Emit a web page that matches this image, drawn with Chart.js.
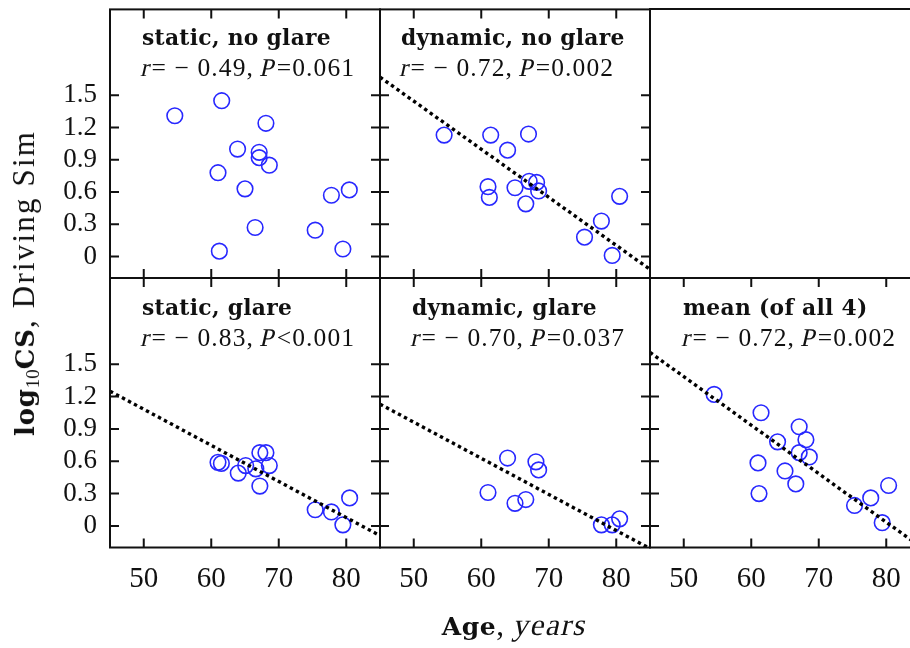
<!DOCTYPE html>
<html><head><meta charset="utf-8">
<script src="https://cdn.jsdelivr.net/npm/chart.js@4/dist/chart.umd.min.js"></script>
<style>
html,body{margin:0;padding:0;background:#fff;overflow:hidden;width:910px;height:648px;}
#wrap{position:relative;width:910px;height:648px;overflow:hidden;}
#wrap canvas{position:absolute;left:0;top:0;}
.txt{position:absolute;font-family:"Liberation Serif",serif;color:#111;white-space:nowrap;line-height:1;}
.bd{font-family:"DejaVu Serif",serif;font-weight:bold;}
.it{display:inline-block;transform:skewX(-13deg);font-style:normal;}
.ptitle{font-size:21.8px;letter-spacing:0.3px;}
.pstat{font-size:25.5px;letter-spacing:1.1px;}
#ytitle{font-size:31px;letter-spacing:2.2px;transform:translate(-50%,-50%) rotate(-90deg);}
#ytitle .bd{font-size:26px;letter-spacing:0.8px;}
#ytitle sub{font-family:"Liberation Serif",serif;font-size:19px;font-weight:normal;vertical-align:-5px;letter-spacing:0;}
#xtitle{font-size:31px;letter-spacing:1.6px;transform:translateX(-50%);}
#xtitle .bd{font-size:25px;letter-spacing:0.6px;}
#empty{position:absolute;border:2px solid #111;}
</style></head>
<body>
<div id="wrap"></div>
<script>
// ---- data ----
const xTickValues = [50, 60, 70, 80];
const xTickLabels = ['50', '60', '70', '80'];
const yTickValues = [0, 0.3, 0.6, 0.9, 1.2, 1.5];
const yTickLabels = ['0', '0.3', '0.6', '0.9', '1.2', '1.5'];

const panelTitles = ['static, no glare', 'dynamic, no glare', 'static, glare', 'dynamic, glare', 'mean (of all 4)'];
const statR = ['\u2212 0.49', '\u2212 0.72', '\u2212 0.83', '\u2212 0.70', '\u2212 0.72'];
const statP = ['=0.061', '=0.002', '<0.001', '=0.037', '=0.002'];

const ageStaticNoGlare = [54.6, 61.55, 68.1, 63.9, 67.1, 67.1, 68.6, 61.0, 65.0, 77.8, 80.45, 66.5, 75.4, 79.5, 61.2];
const csStaticNoGlare  = [1.31, 1.45, 1.24, 1.00, 0.97, 0.92, 0.85, 0.78, 0.63, 0.57, 0.62, 0.27, 0.245, 0.07, 0.05];

const ageDynNoGlare = [54.5, 61.4, 67.0, 63.9, 61.0, 61.2, 65.0, 67.1, 68.2, 68.5, 66.6, 80.5, 77.8, 75.3, 79.4];
const csDynNoGlare  = [1.13, 1.13, 1.14, 0.99, 0.65, 0.55, 0.64, 0.70, 0.69, 0.61, 0.49, 0.56, 0.33, 0.18, 0.01];

const ageStaticGlare = [61.0, 61.5, 64.0, 65.1, 66.6, 67.2, 68.1, 68.6, 67.2, 75.4, 77.8, 80.5, 79.5];
const csStaticGlare  = [0.59, 0.58, 0.49, 0.56, 0.53, 0.68, 0.68, 0.56, 0.37, 0.15, 0.13, 0.26, 0.01];

const ageDynGlare = [63.9, 61.0, 65.0, 66.6, 68.1, 68.5, 77.8, 79.4, 80.5];
const csDynGlare  = [0.63, 0.31, 0.21, 0.245, 0.595, 0.52, 0.01, 0.01, 0.066];

const ageMean = [54.5, 61.45, 63.9, 67.1, 68.1, 67.1, 68.6, 61.0, 65.0, 66.6, 61.15, 75.3, 77.7, 80.35, 79.4];
const csMean  = [1.22, 1.05, 0.78, 0.92, 0.80, 0.68, 0.64, 0.585, 0.51, 0.39, 0.30, 0.19, 0.26, 0.375, 0.03];

const fitAges = [45, 85];
const fitDynNoGlare  = [1.67, -0.12];
const fitStaticGlare = [1.25, -0.09];
const fitDynGlare    = [1.13, -0.21];
const fitMean        = [1.61, -0.19];

// ---- layout ----
const CW = 930, CH = 648;
const colLeft = [110, 380, 650];
const rowTop = [8.5, 278];
const PW = 270, PH = 269.5;
const BLUE = 'rgb(40,40,255)';
const TICK = 9;
const textLeft = [142, 401, 142, 412, 683];
const SERIF = "'Liberation Serif', serif";

const panels = [
  {col:0, row:0, ages:ageStaticNoGlare, vals:csStaticNoGlare, fit:null},
  {col:1, row:0, ages:ageDynNoGlare, vals:csDynNoGlare, fit:fitDynNoGlare},
  {col:0, row:1, ages:ageStaticGlare, vals:csStaticGlare, fit:fitStaticGlare},
  {col:1, row:1, ages:ageDynGlare, vals:csDynGlare, fit:fitDynGlare},
  {col:2, row:1, ages:ageMean, vals:csMean, fit:fitMean}
];

const framePlugin = {
  id: 'frame',
  afterDraw(chart) {
    const {ctx, chartArea: a, scales: {x, y}} = chart;
    ctx.save();
    ctx.strokeStyle = '#111';
    ctx.lineWidth = 2;
    ctx.strokeRect(a.left, a.top, a.right - a.left, a.bottom - a.top);
    ctx.beginPath();
    xTickValues.forEach(v => {
      const px = x.getPixelForValue(v);
      ctx.moveTo(px, a.top); ctx.lineTo(px, a.top + TICK);
      ctx.moveTo(px, a.bottom); ctx.lineTo(px, a.bottom - TICK);
    });
    yTickValues.forEach(v => {
      const py = y.getPixelForValue(v);
      ctx.moveTo(a.left, py); ctx.lineTo(a.left + TICK, py);
      ctx.moveTo(a.right, py); ctx.lineTo(a.right - TICK, py);
    });
    ctx.stroke();
    ctx.restore();
  }
};

const wrap = document.getElementById('wrap');

panels.forEach((p, i) => {
  const L = colLeft[p.col], T = rowTop[p.row];
  const showY = p.col === 0, showX = p.row === 1;
  const yW = showY ? L : 0;
  const xH = showX ? CH - (T + PH) : 0;
  const cv = document.createElement('canvas');
  cv.width = CW; cv.height = CH;
  cv.style.width = CW + 'px'; cv.style.height = CH + 'px';
  wrap.appendChild(cv);
  const datasets = [];
  if (p.fit) {
    datasets.push({
      type: 'line',
      data: fitAges.map((a, k) => ({x: a, y: p.fit[k]})),
      borderColor: '#000', borderWidth: 3.4, borderDash: [3.4, 3.4],
      pointRadius: 0, fill: false, tension: 0, order: 1
    });
  }
  datasets.push({
    type: 'scatter',
    data: p.ages.map((a, k) => ({x: a, y: p.vals[k]})),
    pointStyle: 'circle', pointRadius: 7.8, pointHoverRadius: 7.8,
    pointBorderWidth: 1.6, borderColor: BLUE, backgroundColor: 'rgba(0,0,0,0)',
    order: 2
  });
  new Chart(cv, {
    type: 'scatter',
    data: {datasets},
    options: {
      responsive: false, animation: false, devicePixelRatio: 1, events: [],
      layout: {padding: {left: L - yW, top: T, right: CW - (L + PW), bottom: CH - (T + PH) - xH}},
      plugins: {legend: {display: false}, tooltip: {enabled: false}},
      scales: {
        x: {
          type: 'linear', position: 'bottom', min: 45, max: 85,
          afterBuildTicks: s => { s.ticks = xTickValues.map(v => ({value: v})); },
          afterFit: s => { s.height = xH; s.paddingLeft = 0; s.paddingRight = 0; s.paddingTop = 0; s.paddingBottom = 0; },
          grid: {display: false, drawTicks: false}, border: {display: false},
          ticks: {display: showX, color: '#111', padding: 14, maxRotation: 0, autoSkip: false,
                  font: {family: SERIF, size: 29},
                  callback: (v, idx) => xTickLabels[idx]}
        },
        y: {
          type: 'linear', position: 'left', min: -0.2, max: 2.3,
          afterBuildTicks: s => { s.ticks = yTickValues.map(v => ({value: v})); },
          afterFit: s => { s.width = yW; s.paddingLeft = 0; s.paddingRight = 0; s.paddingTop = 0; s.paddingBottom = 0; },
          grid: {display: false, drawTicks: false}, border: {display: false},
          ticks: {display: showY, color: '#111', padding: 13, autoSkip: false,
                  font: {family: SERIF, size: 27},
                  callback: (v, idx) => yTickLabels[idx]}
        }
      }
    },
    plugins: [framePlugin]
  });

  const t1 = document.createElement('div');
  t1.className = 'txt bd ptitle';
  t1.style.left = textLeft[i] + 'px';
  t1.style.top = (T + 37 - 18.4) + 'px';
  t1.textContent = panelTitles[i];
  wrap.appendChild(t1);
  const t2 = document.createElement('div');
  t2.className = 'txt pstat';
  t2.style.left = textLeft[i] + 'px';
  t2.style.top = (T + 68 - 21.3) + 'px';
  t2.innerHTML = '<span class="it">r</span>= ' + statR[i] + ', <span class="it">P</span>' + statP[i].replace('<', '&lt;');
  wrap.appendChild(t2);
});

const empty = document.createElement('div');
empty.id = 'empty';
empty.style.left = (colLeft[2] - 1) + 'px';
empty.style.top = (rowTop[0] - 1) + 'px';
empty.style.width = (PW - 2) + 'px';
empty.style.height = (PH - 2) + 'px';
wrap.appendChild(empty);

const yt = document.createElement('div');
yt.id = 'ytitle'; yt.className = 'txt';
yt.style.left = '25px'; yt.style.top = '283px';
yt.innerHTML = '<span class="bd">log<sub>10</sub>CS</span>, Driving Sim';
wrap.appendChild(yt);

const xt = document.createElement('div');
xt.id = 'xtitle'; xt.className = 'txt';
xt.style.left = '515px'; xt.style.top = '609px';
xt.innerHTML = '<span class="bd">Age</span>, <span class="it">years</span>';
wrap.appendChild(xt);
</script>
</body></html>
